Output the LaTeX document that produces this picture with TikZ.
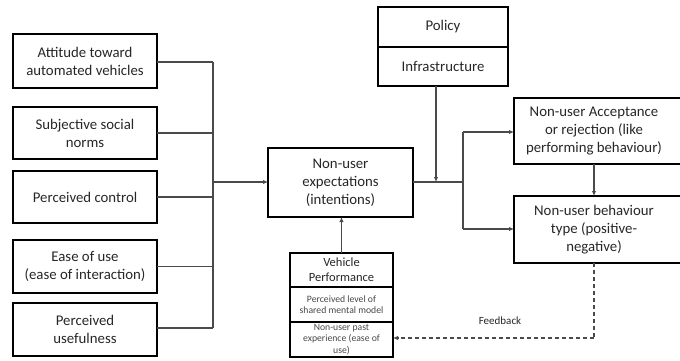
\documentclass[tikz,border=0pt]{standalone}
\usepackage{fontspec}
\setmainfont{Carlito}
\usetikzlibrary{arrows.meta}
\definecolor{txt}{HTML}{262626}
\definecolor{ln}{HTML}{4A4A4A}
\tikzset{
  box/.style={draw=black, line width=2pt, align=center, inner sep=1pt, outer sep=0pt, text=txt,
    font=\fontsize{14.8}{18}\selectfont},
  smallbox/.style={box, line width=1.8pt, font=\fontsize{9.7}{11.5}\selectfont, text=txt!85},
  conn/.style={draw=ln, line width=1.4pt},
  arr/.style={conn, -{Latex[length=5pt,width=4.5pt]}},
}
\begin{document}
\begin{tikzpicture}[x=1pt,y=-1pt]
\useasboundingbox (0,0) rectangle (680,360);
% left boxes
\node[box, minimum width=144, minimum height=54] (att) at (85,61) {Attitude toward\\automated vehicles};
\node[box, minimum width=144, minimum height=52] (soc) at (85,133) {Subjective social\\norms};
\node[box, minimum width=144, minimum height=52] (ctl) at (85,197) {Perceived control};
\node[box, minimum width=144, minimum height=53] (ease) at (85,266.5) {Ease of use\\(ease of interaction)};
\node[box, minimum width=144, minimum height=53] (use) at (85,329.5) {Perceived\\usefulness};
% bus
\coordinate (bt) at (213,62);
\coordinate (bb) at (213,328);
\coordinate (bm) at (213,182);
\draw[conn] (bt) -- (bb);
\draw[conn] (att.east |- bt) -- (bt);
\draw[conn] (soc.east) -- (soc.east -| bm);
\draw[conn] (ctl.east) -- (ctl.east -| bm);
\draw[conn] (ease.east) -- (ease.east -| bm);
\draw[conn] (use.east |- bb) -- (bb);
% expectations
\node[box, minimum width=145, minimum height=69] (exp) at (340.5,182.5) {Non-user\\expectations\\(intentions)};
\draw[arr] (bm) -- (bm -| exp.west);
% policy
\node[box, minimum width=130, minimum height=40] (pol) at (443,27) {Policy};
\node[box, minimum width=130, minimum height=39, anchor=north] (inf) at (pol.south) {Infrastructure};
% junction
\coordinate (jm) at (463,182);
\coordinate (jt) at (463,132);
\coordinate (jb) at (463,229);
\coordinate (pm) at (436,182);
\draw[conn] (exp.east |- jm) -- (jm);
\draw[arr] (inf.south -| pm) -- (pm);
\draw[conn] (jt) -- (jb);
% right boxes
\node[box, minimum width=168, minimum height=66] (acc) at (598,131) {};
\node[text=txt, align=center, font=\fontsize{14.8}{18}\selectfont] (acct) at (594,131) {Non-user Acceptance\\or rejection (like\\performing behaviour)};
\node[box, minimum width=168, minimum height=67] (beh) at (598,229.5) {};
\node[text=txt, align=center, font=\fontsize{14.8}{18}\selectfont] (beht) at (594,229.5) {Non-user behaviour\\type (positive-\\negative)};
\draw[arr] (jt) -- (jt -| acc.west);
\draw[arr] (jb) -- (jb -| beh.west);
\coordinate (ax) at (594,0);
\draw[arr] (acc.south -| ax) -- (beh.north -| ax);
% vehicle
\node[smallbox, minimum width=103, minimum height=34, font=\fontsize{12.5}{15}\selectfont, text=txt] (veh) at (341.5,270) {Vehicle\\Performance};
\node[smallbox, minimum width=103, minimum height=35, anchor=north] (men) at (veh.south) {Perceived level of\\shared mental model};
\node[smallbox, minimum width=103, minimum height=35, anchor=north] (past) at (men.south) {Non-user past\\experience (ease of\\use)};
\draw[arr] (veh.north) -- (exp.south -| veh.north);
% feedback
\coordinate (fc) at (594,338);
\draw[conn, dash pattern=on 4pt off 3pt] (beh.south -| ax) -- (fc);
\draw[arr, dash pattern=on 4pt off 3pt] (fc) -- (fc -| past.east);
\node[font=\fontsize{11}{13}\selectfont, text=txt] (fb) at (500,321) {Feedback};
\end{tikzpicture}
\end{document}
